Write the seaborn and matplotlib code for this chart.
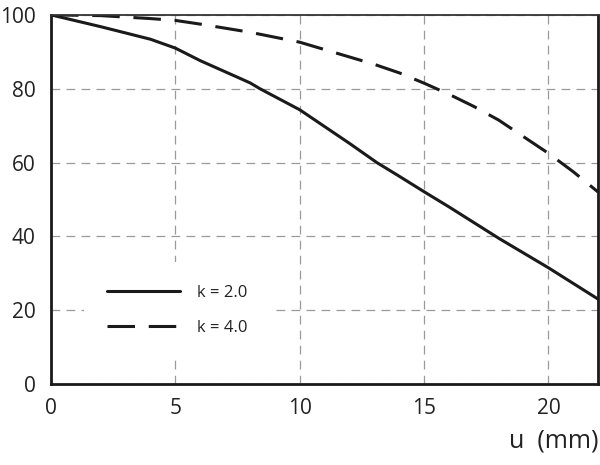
import pandas as pd
import matplotlib
matplotlib.use("Agg")
import matplotlib.pyplot as plt
import seaborn as sns

# Curve data
u_k2 = [0, 2, 4, 5, 6, 8, 8.4, 10, 12, 13.1, 14, 15, 16, 18, 20, 22]
v_k2 = [100, 96.8, 93.4, 91, 87.6, 81.6, 80, 74.3, 65.2, 60, 56.3, 52.1,
        48, 39.5, 31.5, 23]

u_k4 = [0, 2, 4, 5, 6, 8, 10, 12, 13, 14, 15, 16, 17, 18, 19, 20, 21, 22]
v_k4 = [100, 99.8, 99, 98.5, 97.5, 95.3, 92.6, 88.6, 86.6, 84.3, 81.5,
        78.5, 75.2, 71.5, 67, 62.5, 57.5, 52]

x_ticks = [0, 5, 10, 15, 20]
y_ticks = [0, 20, 40, 60, 80, 100]

sns.set_style("white")
plt.rcParams["font.family"] = ["Open Sans", "DejaVu Sans"]

fig = plt.figure(figsize=(6, 4.65), dpi=100)
ax = fig.add_axes([0.085, 0.174, 0.912, 0.794])

df2 = pd.DataFrame({"u": u_k2, "v": v_k2})
df4 = pd.DataFrame({"u": u_k4, "v": v_k4})
sns.lineplot(data=df2, x="u", y="v", ax=ax, color="#1a1a1a", lw=2.2,
             label="k = 2.0")
sns.lineplot(data=df4, x="u", y="v", ax=ax, color="#1a1a1a", lw=2.2,
             label="k = 4.0")
ax.lines[1].set_dashes((9, 4.5))

ax.set_xlim(0, 22)
ax.set_ylim(0, 100)
ax.set_xticks(x_ticks)
ax.set_yticks(y_ticks)
ax.grid(True, color="#9a9a9a", linestyle=(0, (7, 5)), lw=0.9)
ax.set_axisbelow(True)

# only the zero ticks carry a tick mark
ax.tick_params(axis="both", direction="out", length=0, width=1.5,
               colors="#222222", labelsize=15)
ax.tick_params(axis="x", pad=10)
ax.tick_params(axis="y", pad=11)
for t in (ax.xaxis.get_major_ticks()[0], ax.yaxis.get_major_ticks()[0]):
    t.tick1line.set_markersize(5)
    t.tick1line.set_color("#1a1a1a")

for s in ["left", "bottom", "right"]:
    ax.spines[s].set_linewidth(2)
    ax.spines[s].set_color("#1a1a1a")
ax.spines["top"].set_linewidth(1.3)
ax.spines["top"].set_color("#333333")

ax.set_xlabel("")
ax.set_ylabel("")
fig.text(0.997, 0.025, "u  (mm)", ha="right", va="bottom", fontsize=18,
         color="#222222")

leg = ax.legend(loc="upper left", bbox_to_anchor=(0.06, 0.331), frameon=True,
                fontsize=12, handlelength=4.4, handletextpad=1.0,
                labelspacing=1.1, borderpad=1.4, borderaxespad=0)
leg.get_frame().set_edgecolor("none")
leg.get_frame().set_facecolor("white")
leg.get_frame().set_alpha(1)
leg.get_frame().set_boxstyle("square", pad=0)
for txt in leg.get_texts():
    txt.set_color("#222222")

fig.savefig("out.png", dpi=100)
